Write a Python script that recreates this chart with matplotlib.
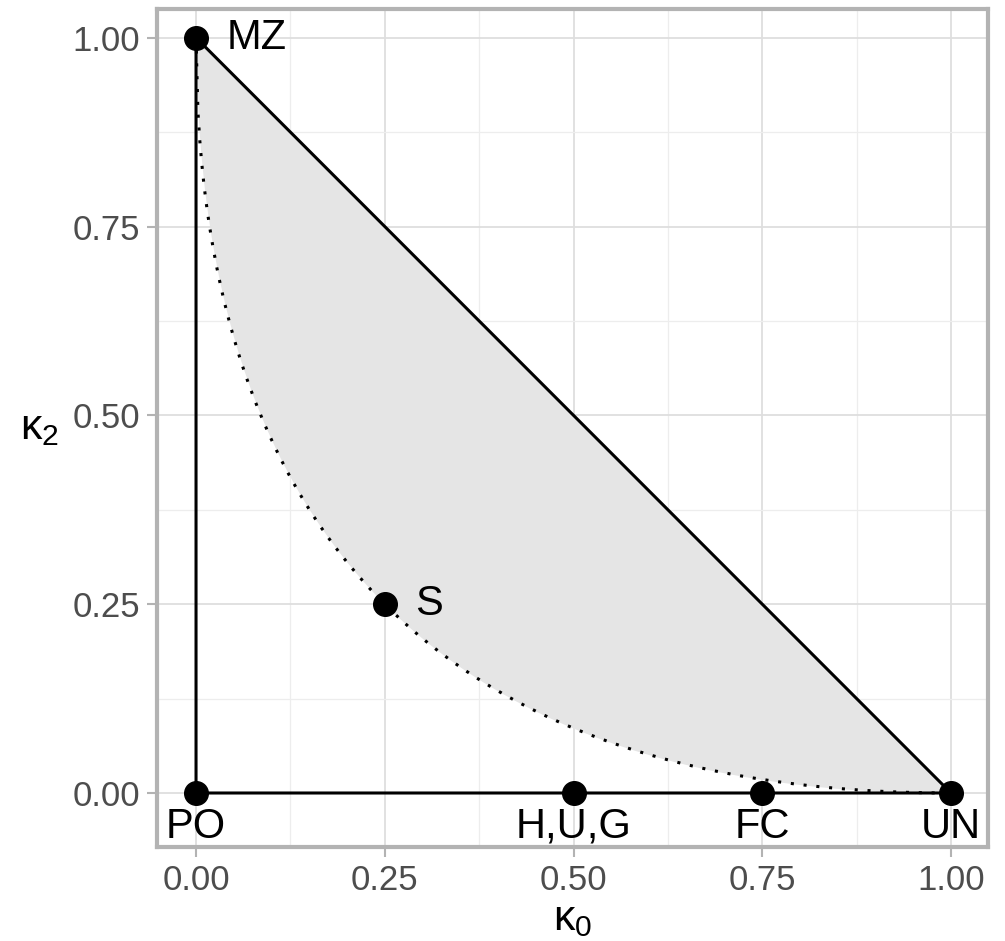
import matplotlib
matplotlib.use("Agg")
import matplotlib.pyplot as plt
import numpy as np

plt.rcParams['font.family'] = ['Liberation Sans', 'DejaVu Sans']
plt.rcParams['mathtext.fontset'] = 'custom'
plt.rcParams['mathtext.rm'] = 'Liberation Sans'
plt.rcParams['mathtext.it'] = 'Liberation Sans'

# relationship points (kappa0, kappa2)
names = ['MZ', 'PO', 'H,U,G', 'FC', 'UN', 'S']
k0 = [0.0, 0.0, 0.5, 0.75, 1.0, 0.25]
k2 = [1.0, 0.0, 0.0, 0.0, 0.0, 0.25]
# label side: right of point or below it
label_pos = ['right', 'below', 'below', 'below', 'below', 'right']

ticks = [0.0, 0.25, 0.5, 0.75, 1.0]
tick_labels = ['0.00', '0.25', '0.50', '0.75', '1.00']

# boundary curve kappa2 = (1 - sqrt(kappa0))^2
curve_x = np.linspace(0, 1, 400)
curve_y = (1 - np.sqrt(curve_x)) ** 2

fig = plt.figure(figsize=(10.05, 9.41), dpi=100)
ax = fig.add_axes([157/1005, (941-847)/941, (988-157)/1005, (847-9)/941])

ax.fill_between(curve_x, curve_y, 1 - curve_x, color='#E5E5E5', lw=0, zorder=1)
ax.plot(curve_x, curve_y, color='black', ls=(0, (1, 3.2)), lw=2.2, zorder=2)
ax.plot([0, 0, 1, 0], [0, 1, 0, 0], color='black', lw=2.2, zorder=3,
        solid_joinstyle='miter')
ax.plot(k0, k2, 'o', color='black', ms=17, zorder=4, clip_on=False)

for n, x, y, p in zip(names, k0, k2, label_pos):
    if p == 'right':
        ax.annotate(n, (x, y), xytext=(22, 0), textcoords='offset points',
                    ha='left', va='center', fontsize=30, zorder=5)
    else:
        ax.annotate(n, (x, y), xytext=(0, -10), textcoords='offset points',
                    ha='center', va='top', fontsize=30, zorder=5)

ax.set_xlim(-0.0517, 1.049)
ax.set_ylim(-0.0715, 1.038)
ax.set_xticks(ticks)
ax.set_xticklabels(tick_labels)
ax.set_yticks(ticks)
ax.set_yticklabels(tick_labels)
ax.set_xticks([0.125, 0.375, 0.625, 0.875], minor=True)
ax.set_yticks([0.125, 0.375, 0.625, 0.875], minor=True)
ax.grid(True, which='major', color='#DEDEDE', lw=1.3, zorder=0)
ax.grid(True, which='minor', color='#EDEDED', lw=0.9, zorder=0)
ax.set_axisbelow(True)
ax.tick_params(which='major', length=7, width=1.5, color='#B3B3B3',
               labelsize=25, labelcolor='#4D4D4D', pad=5)
ax.tick_params(which='minor', length=0)
for s in ax.spines.values():
    s.set_color('#B3B3B3')
    s.set_linewidth(3)

ax.set_xlabel(r'$\kappa_0$', fontsize=31, labelpad=2)
ax.set_ylabel(r'$\kappa_2$', fontsize=31, rotation=0, labelpad=24, va='center')

fig.savefig('out.png', dpi=100, facecolor='white')
